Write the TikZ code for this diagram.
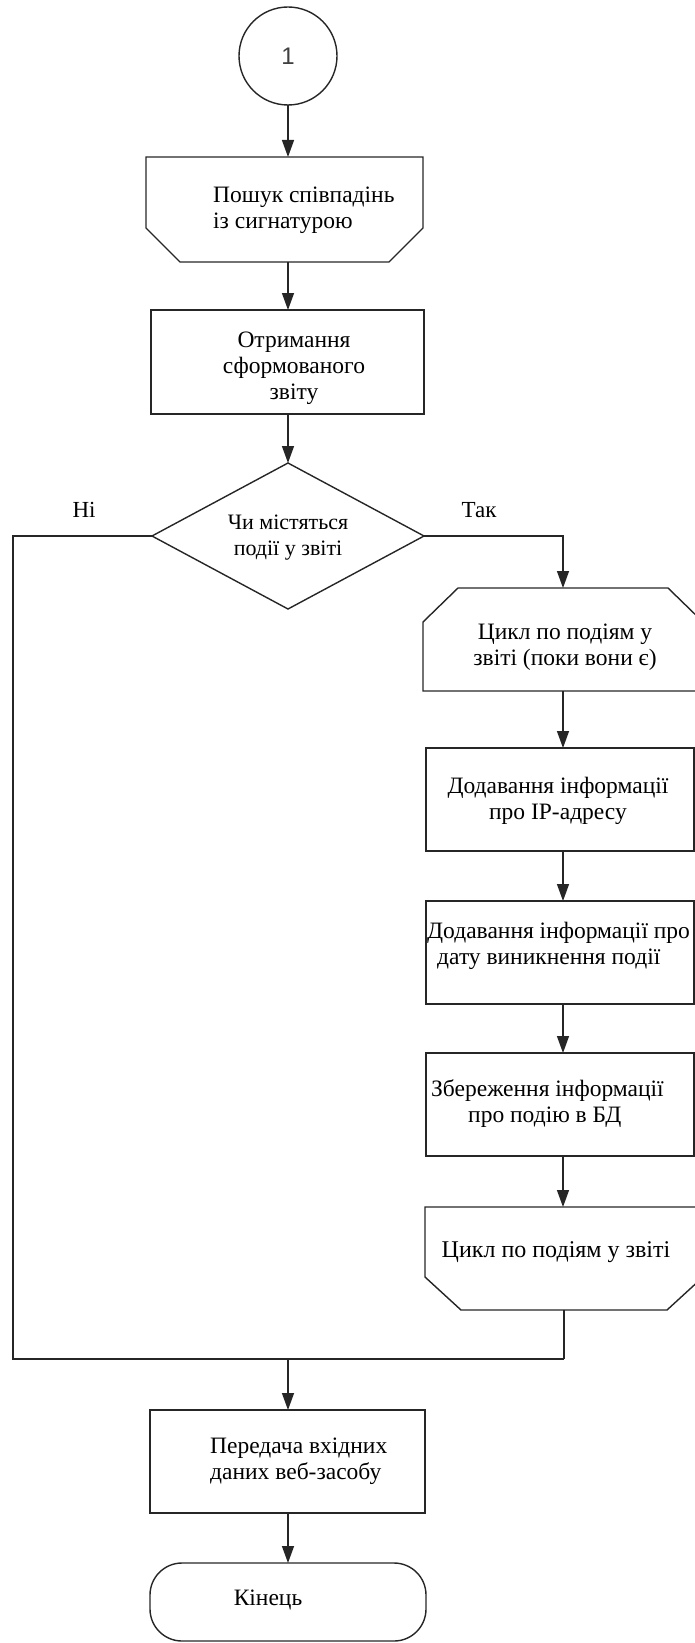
\documentclass[tikz,border=0pt]{standalone}
\usepackage{fontspec}
\setmainfont{Liberation Serif}
\newfontfamily\arialf{Liberation Sans}
\usetikzlibrary{arrows.meta,calc}
\begin{document}
\begin{tikzpicture}[x=1pt,y=-1pt,
  line/.style={draw=black!85, line width=1.4pt},
  arr/.style={line, -{Triangle[length=17pt,width=12pt]}},
  txt/.style={font=\fontsize{23.5}{26}\selectfont, inner sep=0pt, align=center},
  shp/.style={minimum width=#1, inner sep=0pt, outer sep=0pt},
  bx/.style={line, rectangle, inner sep=0pt, outer sep=0pt}
]
\useasboundingbox (0,0) rectangle (695,1643);

% connector 1
\node[line, circle, minimum size=98pt, inner sep=0pt, outer sep=0pt,
      font=\arialf\fontsize{24}{28}\selectfont, text=black!75] (c) at (288,56) {1};

% hexagon 1 (bottom corners cut)
\node[shp=277pt, minimum height=105pt] (h1) at (284.5,209.5) {};
\draw[line] (h1.north west) -- (h1.north east) -- ($(h1.south east)+(0,-34)$)
  -- ($(h1.south east)+(-34,0)$) -- ($(h1.south west)+(34,0)$)
  -- ($(h1.south west)+(0,-34)$) -- cycle;
\node[txt, anchor=west, align=left] (h1t) at (213,210) {Пошук співпадінь\\із сигнатурою};

% rect 2
\node[bx, minimum width=273pt, minimum height=104pt] (r2) at (287.5,362) {};
\node[txt] (r2t) at (294,368) {Отримання\\сформованого\\звіту};

% diamond
\node[shp=272pt, minimum height=146pt] (d) at (288,536) {};
\draw[line] (d.north) -- (d.east) -- (d.south) -- (d.west) -- cycle;
\node[txt, font=\fontsize{22}{26}\selectfont] (dt) at (288,538) {Чи містяться\\події у звіті};
\node[txt, font=\fontsize{23}{26}\selectfont] (no) at (84,510) {Ні};
\node[txt, font=\fontsize{23}{26}\selectfont] (yes) at (479,510) {Так};

% hexagon 2 (top corners cut)
\node[shp=280pt, minimum height=103pt] (h2) at (563,639.5) {};
\draw[line] (h2.south west) -- (h2.south east) -- ($(h2.north east)+(0,34)$)
  -- ($(h2.north east)+(-35,0)$) -- ($(h2.north west)+(35,0)$)
  -- ($(h2.north west)+(0,34)$) -- cycle;
\node[txt] (h2t) at (565,647) {Цикл по подіям у\\звіті (поки вони є)};

% rect 3
\node[bx, minimum width=268pt, minimum height=103pt] (r3) at (560,799.5) {};
\node[txt] (r3t) at (558,801) {Додавання інформації\\про IP-адресу};

% rect 4
\node[bx, minimum width=268pt, minimum height=103pt] (r4) at (560,952.5) {};
\node[txt, anchor=west, align=left] (r4t) at (427,946) {Додавання інформації про\\\hspace*{10pt}дату виникнення події};

% rect 5
\node[bx, minimum width=268pt, minimum height=103pt] (r5) at (560,1104.5) {};
\node[txt, anchor=west, align=left] (r5t) at (431,1104) {Збереження інформації\\\hspace*{37pt}про подію в БД};

% hexagon 6 (bottom corners cut)
\node[shp=278pt, minimum height=103pt] (h6) at (564,1258.5) {};
\draw[line] (h6.north west) -- (h6.north east) -- ($(h6.south east)+(0,-33)$)
  -- ($(h6.south east)+(-36,0)$) -- ($(h6.south west)+(36,0)$)
  -- ($(h6.south west)+(0,-33)$) -- cycle;
\node[txt, font=\fontsize{24}{26}\selectfont] (h6t) at (556,1252) {Цикл по подіям у звіті};

% rect 7
\node[bx, minimum width=275pt, minimum height=103pt] (r7) at (287.5,1461.5) {};
\node[txt, anchor=west, align=left] (r7t) at (210,1461) {Передача вхідних\\даних веб-засобу};

% terminator
\node[line, rectangle, rounded corners=32pt, minimum width=276pt, minimum height=78pt,
      inner sep=0pt, outer sep=0pt] (t) at (288,1602) {};
\node[txt] (tt) at (268,1600) {Кінець};

% connectors
\coordinate (jn) at (13,536);
\coordinate (jl) at (13,1359);
\coordinate (jr) at (564,1359);
\coordinate (jm) at (288,1359);
\coordinate (yr) at (563,536);

\draw[arr] (c.south) -- (c.south |- h1.north);
\draw[arr] (c.south |- h1.south) -- (c.south |- r2.north);
\draw[arr] (c.south |- r2.south) -- (d.north);
\draw[line] (d.west) -- (jn) -- (jl) -- (jr);
\draw[arr] (d.east) -- (yr) -- (yr |- h2.north);
\draw[arr] (yr |- h2.south) -- (yr |- r3.north);
\draw[arr] (yr |- r3.south) -- (yr |- r4.north);
\draw[arr] (yr |- r4.south) -- (yr |- r5.north);
\draw[arr] (yr |- r5.south) -- (yr |- h6.north);
\draw[line] (jr |- h6.south) -- (jr);
\draw[arr] (jm) -- (jm |- r7.north);
\draw[arr] (r7.south -| jm) -- (jm |- t.north);
\end{tikzpicture}
\end{document}
